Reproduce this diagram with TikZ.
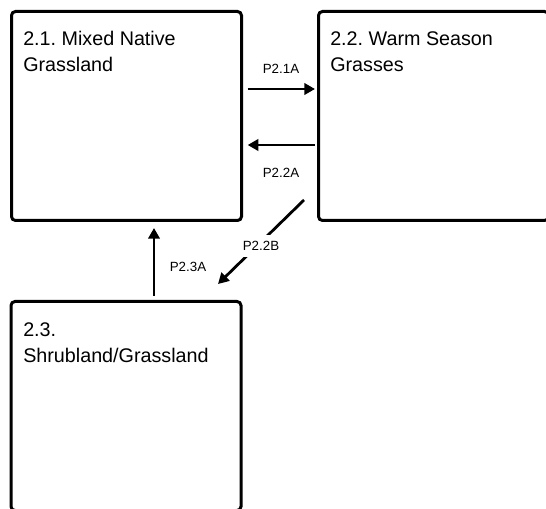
\documentclass[tikz,border=0pt]{standalone}
\usepackage{fontspec}
\setmainfont{Liberation Sans}
\usetikzlibrary{arrows.meta}
\begin{document}
\frenchspacing
\begin{tikzpicture}[x=0.75pt,y=-0.75pt,
  box/.style={draw=black,line width=2.25pt,rounded corners=3pt,fill=white,
    minimum width=172.5pt,minimum height=156.75pt,inner sep=0pt},
  title/.style={anchor=north west,inner sep=0pt,align=left,
    font=\fontsize{14.8}{19.5}\selectfont},
  lbl/.style={inner sep=1pt,font=\fontsize{10}{12}\selectfont},
  arr/.style={line width=2.1pt,-{Triangle[length=8pt,width=8.5pt]}}]
\useasboundingbox (0,0) rectangle (546,509);
\clip (0,0) rectangle (546,509);
\node[box] (b1) at (126.5,116) {};
\node[box] (b2) at (433.5,116) {};
\node[box] (b3) at (126,406) {};
\node[title] (t1) at (23,31) {2.1. Mixed Native\\Grassland};
\node[title] (t2) at (330,31) {2.2. Warm Season\\Grasses};
\node[title] (t3) at (23,322) {2.3.\\Shrubland/Grassland};
\coordinate (y1) at (0,89);
\coordinate (y2) at (0,145);
\coordinate (x3) at (154,0);
\coordinate (d1) at (304,200);
\coordinate (d2) at (218,284);
\draw[arr,shorten <=3.5pt,shorten >=1.5pt] (b1.east |- y1) -- (b2.west |- y1);
\draw[arr,shorten <=1.5pt,shorten >=3.5pt] (b2.west |- y2) -- (b1.east |- y2);
\draw[arr] (d1) -- (d2);
\draw[arr,shorten <=3pt,shorten >=4.5pt] (b3.north -| x3) -- (b1.south -| x3);
\node[lbl] (l1) at (281,69) {P2.1A};
\node[lbl] (l2) at (281,173) {P2.2A};
\node[lbl,fill=white,inner xsep=2pt,inner ysep=4.5pt] (l3) at (261,246) {P2.2B};
\node[lbl] (l4) at (188,267) {P2.3A};
\end{tikzpicture}
\end{document}
